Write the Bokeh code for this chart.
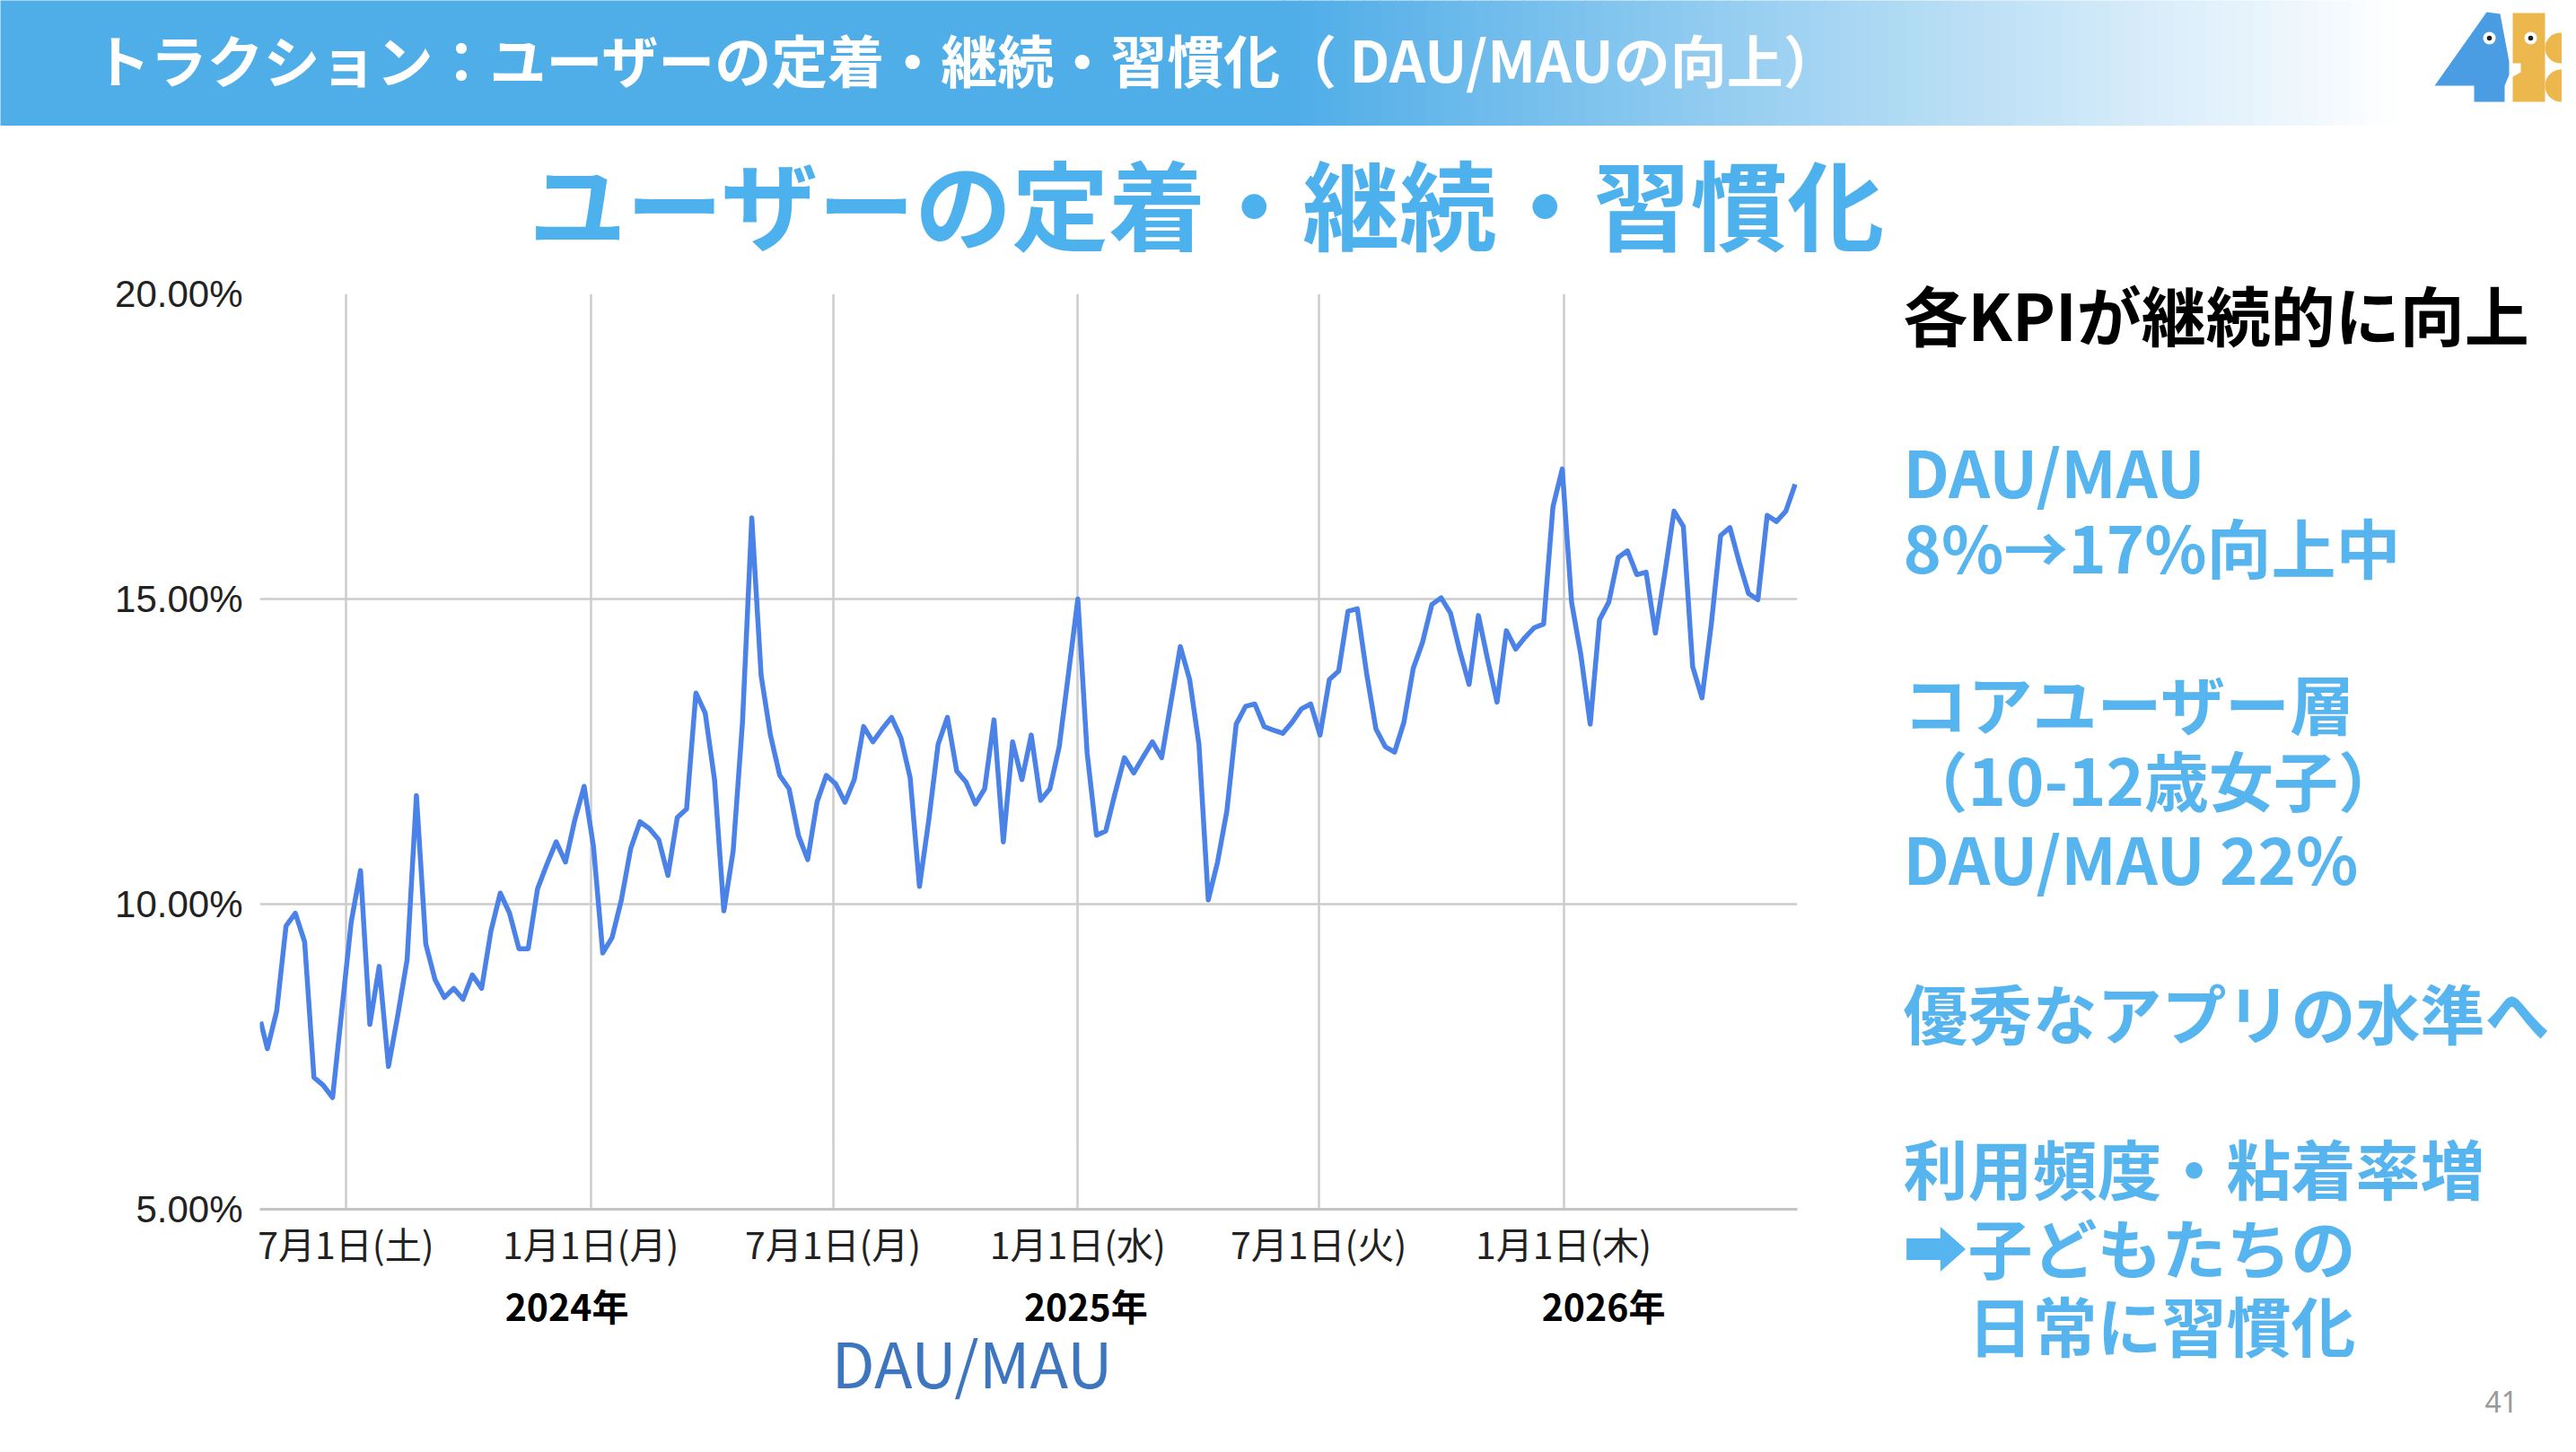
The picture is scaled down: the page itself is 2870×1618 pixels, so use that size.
import numpy as np
import pandas as pd
from bokeh.plotting import figure
from bokeh.layouts import column, row
from bokeh.models import (Range1d, FixedTicker, DatetimeAxis, PrintfTickFormatter,
                          ColumnDataSource, Title)
from bokeh.core.properties import value
from bokeh.embed import file_html
from bokeh.resources import INLINE

# ---------------- data ----------------
first_date = ["2023-04-28"]
weekly_start = "2023-05-03"
dau_mau = [
    8.07,
    7.63, 8.25, 9.64, 9.85, 9.38, 7.16, 7.03, 6.83, 8.27, 9.71,
    10.55, 8.03, 8.98, 7.34, 8.18, 9.09, 11.78, 9.35, 8.76, 8.47,
    8.62, 8.44, 8.84, 8.62, 9.56, 10.18, 9.85, 9.27, 9.27, 10.25,
    10.65, 11.02, 10.69, 11.38, 11.93, 10.95, 9.20, 9.45, 10.07, 10.91,
    11.35, 11.24, 11.06, 10.47, 11.42, 11.56, 13.46, 13.13, 12.04, 9.89,
    10.87, 12.98, 16.33, 13.75, 12.77, 12.11, 11.89, 11.13, 10.73, 11.67,
    12.11, 11.97, 11.67, 12.04, 12.91, 12.66, 12.87, 13.06, 12.73, 12.07,
    10.29, 11.38, 12.62, 13.06, 12.18, 12.00, 11.64, 11.89, 13.02, 11.02,
    12.66, 12.04, 12.77, 11.70, 11.89, 12.58, 13.78, 15.00, 12.47, 11.13,
    11.20, 11.82, 12.40, 12.15, 12.41, 12.66, 12.40, 13.31, 14.22, 13.68,
    12.62, 10.07, 10.69, 11.53, 12.95, 13.24, 13.28, 12.91, 12.85, 12.80,
    12.98, 13.20, 13.28, 12.77, 13.68, 13.82, 14.80, 14.84, 13.78, 12.87,
    12.58, 12.49, 12.98, 13.86, 14.29, 14.91, 15.02, 14.77, 14.15, 13.60,
    14.73, 14.00, 13.31, 14.48, 14.18, 14.37, 14.53, 14.59, 16.51, 17.13,
    14.95, 14.08, 12.95, 14.66, 14.95, 15.68, 15.79, 15.40, 15.44, 14.44,
    15.41, 16.44, 16.19, 13.89, 13.38, 14.59, 16.04, 16.17, 15.60, 15.09,
    14.99, 16.37, 16.27, 16.44, 16.88,
]
x_start = "2023-04-27 08:00"
x_end = "2026-06-25 16:00"
tick_dates = ["2023-07-01", "2024-01-01", "2024-07-01", "2025-01-01", "2025-07-01", "2026-01-01"]
tick_labels = ["7月1日(土)", "1月1日(月)", "7月1日(月)", "1月1日(水)", "7月1日(火)", "1月1日(木)"]
year_dates = ["2023-12-14", "2025-01-07", "2026-01-31"]
year_labels = ["2024年", "2025年", "2026年"]
y_ticks = [5, 10, 15, 20]

header_text = "トラクション：ユーザーの定着・継続・習慣化（ DAU/MAUの向上）"
title_text = "ユーザーの定着・継続・習慣化"
series_label = "DAU/MAU"
side_heading = "各KPIが継続的に向上"
side_lines = ["DAU/MAU", "8%→17%向上中", "コアユーザー層", "（10-12歳女子）",
              "DAU/MAU 22%", "優秀なアプリの水準へ", "利用頻度・粘着率増",
              "➡子どもたちの", "　日常に習慣化"]
page_number = "41"

CJK = "Noto Sans CJK JP"
W, H = 2854, 1602
HEAD_H = 140         # header bar strip
TITLE_B = 302        # bottom of the title band
CHART_W = 2100       # chart column width
SIDE_W = W - CHART_W


def ms(d):
    return int(pd.Timestamp(d).value // 10**6)


def blank(w, h, x0, x1, y_top, y_bot):
    f = figure(width=w, height=h, x_range=Range1d(x0, x1), y_range=Range1d(y_bot, y_top),
               output_backend="svg", toolbar_location=None,
               x_axis_location=None, y_axis_location=None, min_border=0)
    f.outline_line_color = None
    f.grid.visible = False
    f.background_fill_color = "white"
    f.border_fill_color = "white"
    f.frame_align = False
    return f


# ---------------- header bar with logo ----------------
top = blank(W, HEAD_H, 0, W, 0, HEAD_H)
c0 = np.array([79, 173, 232])
c1 = np.array([255, 255, 255])
n = 70
gx0, gx1 = 1430, 2670
lefts, rights, cols = [-5], [gx0 + 1], ["#4fade8"]
for i in range(n):
    t = (i + 0.5) / n
    c = (c0 + (c1 - c0) * t).astype(int)
    lefts.append(gx0 + (gx1 - gx0) * i / n)
    rights.append(gx0 + (gx1 - gx0) * (i + 1) / n + 1)
    cols.append("#%02x%02x%02x" % tuple(c))
top.quad(left=lefts, right=rights, top=[-5] * len(lefts), bottom=[141] * len(lefts),
         fill_color=cols, line_color=None)

top.patches(xs=[[2770, 2785, 2795, 2795, 2790, 2790, 2756, 2756, 2712],
                [2799, 2835, 2835, 2799, 2799, 2808, 2808, 2799]],
            ys=[[13, 15, 68, 83, 95, 113, 113, 95, 95],
                [14, 14, 113, 113, 85, 80, 70, 70]],
            fill_color=["#4a9de2", "#ecb74c"], line_color=None)
top.circle(x=[2852, 2853], y=[53, 95], radius=[17, 18], fill_color="#ecb74c", line_color=None)
top.circle(x=[2773, 2819], y=[42, 42], radius=7, fill_color="white", line_color=None)
top.circle(x=[2773, 2819], y=[42, 42], radius=2.8, fill_color="#222222", line_color=None)

top.text(x=[104], y=[64], text=[header_text], text_font=value(CJK), text_font_size="63px",
         text_font_style="bold", text_color="#ffffff", text_align="left", text_baseline="middle")

# ---------------- title band ----------------
tband = blank(CHART_W, TITLE_B - HEAD_H, 0, CHART_W, HEAD_H, TITLE_B)
tband.text(x=[589], y=[223], text=[title_text], text_font=value(CJK), text_font_size="108px",
           text_font_style="bold", text_color="#4db1ee", text_align="left", text_baseline="middle")

# ---------------- chart ----------------
dates = list(pd.to_datetime(first_date)) + list(pd.date_range(weekly_start, periods=len(dau_mau) - 1, freq="7D"))
src = ColumnDataSource(dict(x=[ms(d) for d in dates], y=dau_mau))

CH = H - TITLE_B
ML = 289
MT = 327 - TITLE_B
FW, FH = 1713, 1020
p = figure(width=CHART_W, height=CH, x_axis_type="datetime",
           x_range=Range1d(ms(x_start), ms(x_end)), y_range=Range1d(5, 20),
           output_backend="svg", toolbar_location=None,
           min_border_left=ML, min_border_right=CHART_W - ML - FW,
           min_border_top=MT, min_border_bottom=CH - MT - FH)
p.outline_line_color = None
p.background_fill_color = "white"
p.border_fill_color = "white"
p.frame_align = False

tick_ms = [ms(d) for d in tick_dates]
xa = p.xaxis[0]
xa.ticker = FixedTicker(ticks=tick_ms)
xa.major_label_overrides = {t: l for t, l in zip(tick_ms, tick_labels)}
xa.major_tick_line_color = None
xa.minor_tick_line_color = None
xa.axis_line_color = "#c4c4c4"
xa.axis_line_width = 3
xa.major_label_text_font = CJK
xa.major_label_text_font_size = "41px"
xa.major_label_text_color = "#222222"
xa.major_label_standoff = 1

year_ms = [ms(d) for d in year_dates]
ya2 = DatetimeAxis(ticker=FixedTicker(ticks=year_ms),
                   major_label_overrides={t: l for t, l in zip(year_ms, year_labels)})
ya2.major_tick_line_color = None
ya2.minor_tick_line_color = None
ya2.axis_line_color = None
ya2.major_label_text_font = CJK
ya2.major_label_text_font_style = "bold"
ya2.major_label_text_font_size = "41px"
ya2.major_label_text_color = "#000000"
ya2.major_label_standoff = 0
p.add_layout(ya2, "below")

p.add_layout(Title(text=series_label, align="left", offset=637, standoff=-42, vertical_align="top",
                   text_font=CJK, text_font_size="70px", text_font_style="normal",
                   text_color="#3d76bf"), "below")

yax = p.yaxis[0]
yax.ticker = FixedTicker(ticks=y_ticks)
yax.formatter = PrintfTickFormatter(format="%.2f%%")
yax.major_tick_line_color = None
yax.minor_tick_line_color = None
yax.axis_line_color = None
yax.major_label_text_font = "Liberation Sans"
yax.major_label_text_font_size = "42px"
yax.major_label_text_color = "#222222"
yax.major_label_standoff = 13

p.xgrid[0].ticker = FixedTicker(ticks=tick_ms)
p.ygrid[0].ticker = FixedTicker(ticks=y_ticks)
for g in (p.xgrid[0], p.ygrid[0]):
    g.grid_line_color = "#cccccc"
    g.grid_line_width = 2.5

p.line("x", "y", source=src, line_color="#4a82e8", line_width=5.5, line_join="round")

# ---------------- right-hand text ----------------
side = blank(SIDE_W, H - HEAD_H, CHART_W, W, HEAD_H, H)
side_y = [523, 607, 781, 866, 954, 1126, 1299, 1387, 1474]
side.text(x=[2120], y=[348], text=[side_heading], text_font=value(CJK), text_font_size="72px",
          text_font_style="bold", text_color="#000000", text_align="left", text_baseline="middle")
side.text(x=[2120] * len(side_lines), y=side_y, text=side_lines, text_font=value(CJK),
          text_font_size="72px", text_font_style="bold", text_color="#56b4ef",
          text_align="left", text_baseline="middle")
side.text(x=[2768], y=[1561], text=[page_number], text_font=value("Noto Sans"), text_font_size="32px",
          text_color="#999999", text_align="left", text_baseline="middle")

layout = column(top, row(column(tband, p), side))
open("out.html", "w").write(file_html(layout, INLINE))
